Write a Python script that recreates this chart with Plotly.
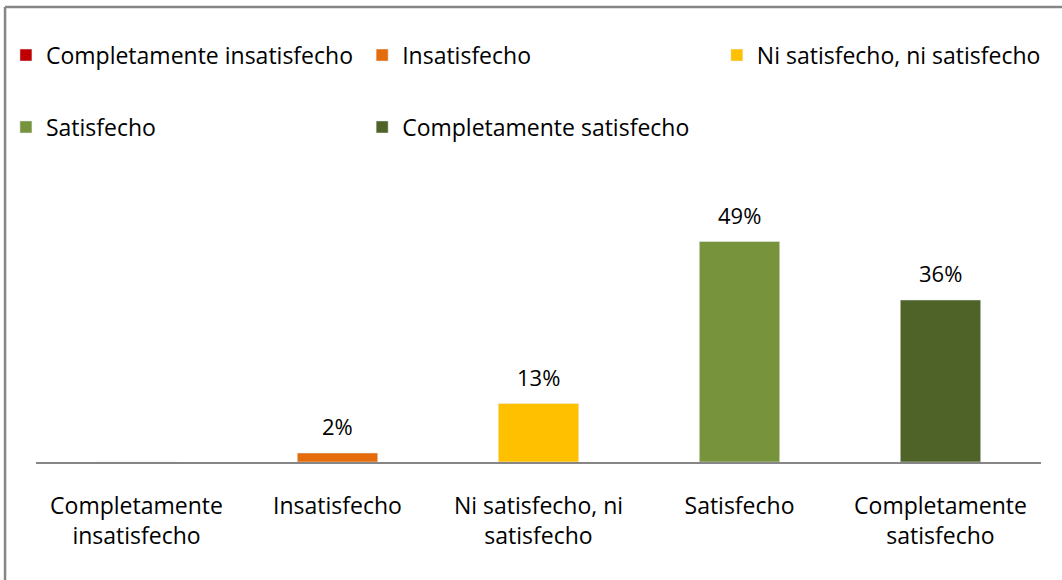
import plotly.graph_objects as go

categories = ["Completamente insatisfecho", "Insatisfecho", "Ni satisfecho, ni satisfecho",
              "Satisfecho", "Completamente satisfecho"]
tick_labels = ["Completamente<br>insatisfecho", "Insatisfecho", "Ni satisfecho, ni<br>satisfecho",
               "Satisfecho", "Completamente<br>satisfecho"]
values = [0.0, 0.02, 0.13, 0.49, 0.36]
colors = ["#C00000", "#E46C0A", "#FFC000", "#77933C", "#4F6228"]
legend_ids = ["legend", "legend2", "legend3", "legend4", "legend5"]
# legend placement (container fractions): left x, center y
legend_x = [0.0056, 0.341, 0.675, 0.0056, 0.341]
legend_y = [0.905, 0.905, 0.905, 0.781, 0.781]

FONT = "Open Sans"
FS = 23
fig = go.Figure()
for cat, tick, v, c, lg in zip(categories, tick_labels, values, colors, legend_ids):
    fig.add_trace(go.Bar(x=[tick], y=[v], name=cat, marker_color=c, width=0.4,
                         legend=lg, hoverinfo="skip"))
    if v > 0:
        fig.add_annotation(x=tick, y=v, text=f"{round(v*100)}%", showarrow=False,
                           yanchor="bottom", yshift=10,
                           font=dict(family=FONT, size=FS - 1, color="#000"))

legends = {}
for lg, lx, ly in zip(legend_ids, legend_x, legend_y):
    legends[lg] = dict(orientation="h", xref="container", yref="container",
                       x=lx, y=ly, xanchor="left", yanchor="middle",
                       font=dict(family=FONT, size=FS, color="#000"),
                       itemclick=False, bgcolor="rgba(0,0,0,0)")

fig.update_layout(
    width=1062, height=580,
    margin=dict(l=36, r=21, t=192, b=118, autoexpand=False),
    paper_bgcolor="white", plot_bgcolor="white",
    barmode="overlay",
    showlegend=True,
    dragmode=False,
    xaxis=dict(categoryorder="array", categoryarray=tick_labels, fixedrange=True,
               showline=True, linecolor="#868686", linewidth=2,
               ticks="", showgrid=False, zeroline=False, ticklabelstandoff=22,
               tickfont=dict(family=FONT, size=FS, color="#000")),
    yaxis=dict(range=[0, 0.6], visible=False, showgrid=False, zeroline=False, fixedrange=True),
    font=dict(family=FONT),
    **legends,
)
# outer chart border (left and top edges visible)
fig.add_shape(type="line", xref="paper", yref="paper",
              x0=-0.0308, x1=-0.0308, y0=-0.5, y1=(462 - 7) / 270,
              line=dict(color="#868686", width=2.5))
fig.add_shape(type="line", xref="paper", yref="paper",
              x0=-0.0308, x1=1.05, y0=(462 - 7) / 270, y1=(462 - 7) / 270,
              line=dict(color="#868686", width=2.5))
# blank out the bottom-right margin corner
fig.add_shape(type="rect", xref="paper", yref="paper", layer="above",
              x0=1.0, x1=1.1, y0=-0.6, y1=-0.006,
              line=dict(width=0), fillcolor="white")
fig.write_html("out.html", config={"displayModeBar": False, "staticPlot": True},
               post_script="document.body.style.margin='0';document.body.style.padding='0';"
                           "document.documentElement.style.overflow='hidden';")
